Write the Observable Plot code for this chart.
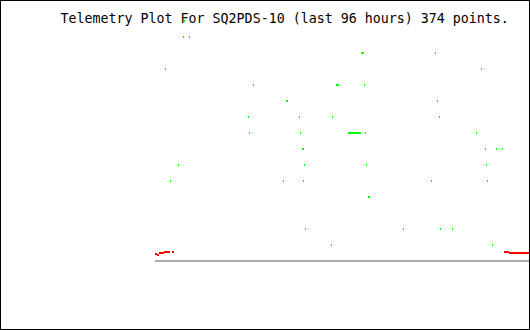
<!DOCTYPE html>
<html>
<head>
<meta charset="utf-8">
<script src="https://cdn.jsdelivr.net/npm/d3@7"></script>
<script src="https://cdn.jsdelivr.net/npm/@observablehq/plot@0.6"></script>
<style>
  html, body { margin: 0; padding: 0; background: #fff; }
  #wrap { position: relative; width: 530px; height: 330px; }
  #wrap svg { display: block; }
  #border { position: absolute; left: 0; top: 0; width: 530px; height: 330px; box-sizing: border-box; border: 1px solid #000; pointer-events: none; }
</style>
</head>
<body>
<div id="wrap"><div id="border"></div></div>
<script>
const title = "Telemetry Plot For SQ2PDS-10 (last 96 hours) 374 points.";
const hoursSpan = 96;

// green channel: hours since start of window, value
const greenHours = [7.55, 7.30, 8.83, 52.86, 53.12, 53.38, 71.81, 2.69, 83.58,
  25.22, 46.46, 46.72, 46.98, 53.63, 33.66, 33.92, 72.32,
  23.94, 36.99, 45.44, 72.83,
  24.19, 37.25, 49.54, 49.79, 50.05, 50.30, 50.56, 50.82, 51.07, 51.33, 51.58, 51.84, 52.10, 52.35, 52.61, 53.89, 82.30,
  37.76, 38.02, 84.61, 87.42, 88.96,
  6.02, 38.27, 54.14, 84.86,
  3.97, 32.90, 38.02, 70.78, 85.12,
  54.66, 54.91,
  38.53, 63.62, 73.09, 76.16,
  45.18, 86.40];
const greenValues = [15, 14, 14, 13, 13, 13, 13, 12, 12,
  11, 11, 11, 11, 11, 10, 10, 10,
  9, 9, 9, 9,
  8, 8, 8, 8, 8, 8, 8, 8, 8, 8, 8, 8, 8, 8, 8, 8, 8,
  7, 7, 7, 7, 7,
  6, 6, 6, 6,
  5, 5, 5, 5, 5,
  4, 4,
  2, 2, 2, 2,
  1, 1];

// red channel
const redHours = [0.26, 0.77, 1.28, 1.79, 2.05, 2.56, 3.07, 3.58, 4.61,
  89.60, 90.11, 90.37, 90.88, 91.39, 91.90, 92.42, 92.93, 93.44, 93.95, 94.46, 94.98, 95.49, 95.74];
const redValues = [0.4375, 0.375, 0.5, 0.5, 0.5, 0.5625, 0.5625, 0.5625, 0.5625,
  0.5625, 0.5625, 0.5625, 0.5, 0.5, 0.5, 0.5, 0.5, 0.5, 0.5, 0.5, 0.5, 0.5, 0.5];

const green = greenHours.map((h, i) => ({h, v: greenValues[i]}));
const red = redHours.map((h, i) => ({h, v: redValues[i]}));

const chart = Plot.plot({
  width: 530,
  height: 330,
  marginLeft: 155,
  marginRight: 0,
  marginTop: 21,
  marginBottom: 69,
  x: {domain: [0, hoursSpan], axis: null},
  y: {domain: [0, 15], axis: null},
  style: {background: "#fff", overflow: "visible"},
  marks: [
    Plot.ruleY([0], {stroke: "#aaaaaa", strokeWidth: 2, dy: -0.5}),
    Plot.rect(red, {x1: "h", x2: "h", y1: "v", y2: "v", fill: "#ff0000",
      insetLeft: -1, insetRight: -1, insetTop: -1, insetBottom: -1, shapeRendering: "crispEdges"}),
    Plot.rect(green, {x1: "h", x2: "h", y1: "v", y2: "v", fill: "#00ff00",
      insetLeft: -0.5, insetRight: -0.5, insetTop: -1, insetBottom: -1, shapeRendering: "crispEdges"}),
    Plot.text([title], {frameAnchor: "top-left", text: d => d, textAnchor: "start", lineAnchor: "bottom",
      dx: -95, dy: 1, fontFamily: "DejaVu Sans Mono", fontSize: 13.3, fill: "#000"})
  ]
});
document.getElementById("wrap").prepend(chart);
</script>
</body>
</html>
